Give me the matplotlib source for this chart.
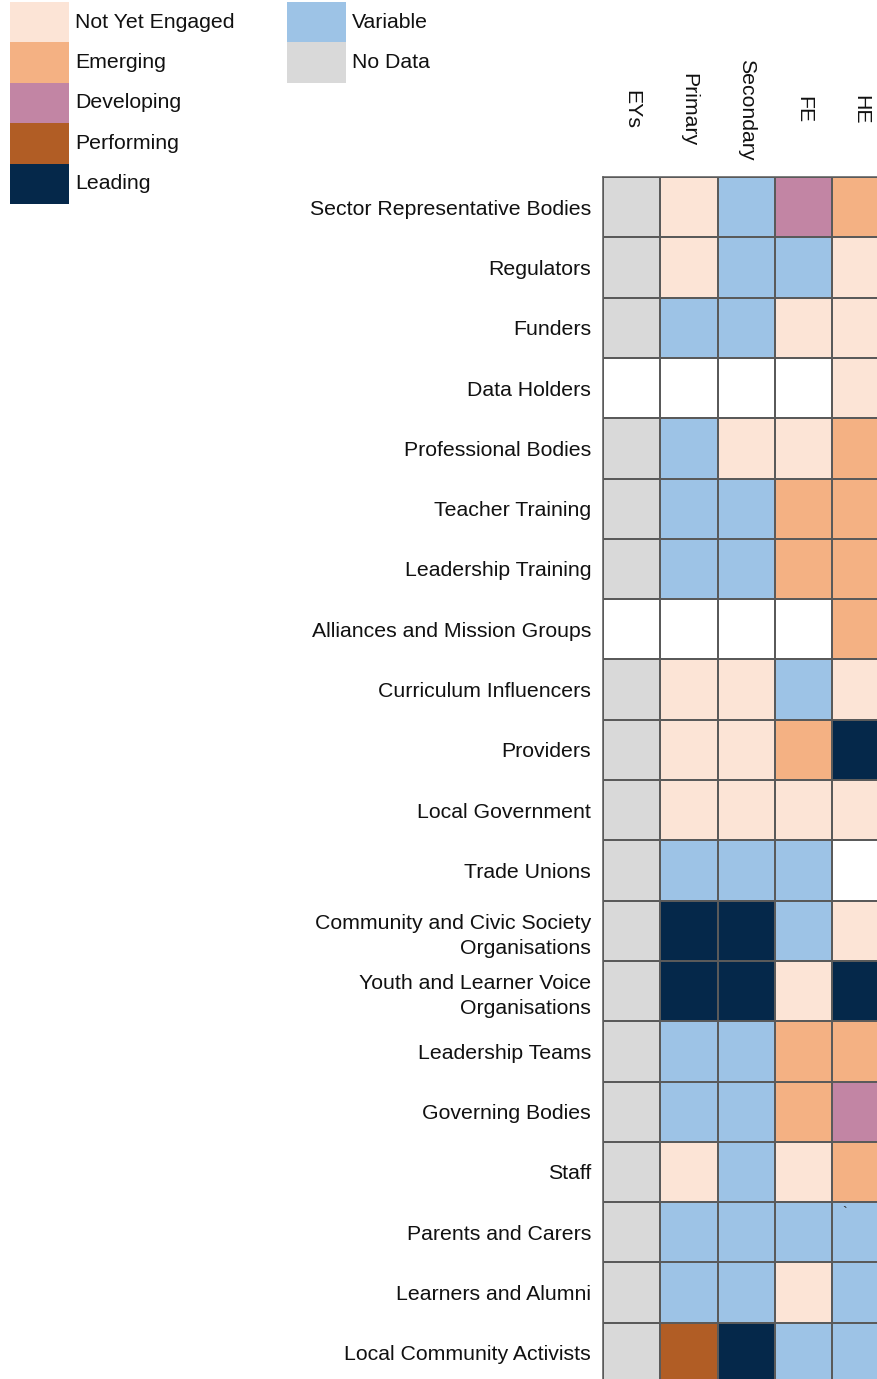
import numpy as np
import matplotlib
matplotlib.use("Agg")
import matplotlib.pyplot as plt
from matplotlib.colors import ListedColormap, BoundaryNorm
from matplotlib.patches import Rectangle
from matplotlib.transforms import blended_transform_factory

plt.rcParams['font.family'] = ['Liberation Sans', 'DejaVu Sans']

# categories / legend
levels = ["Not Yet Engaged", "Emerging", "Developing", "Performing", "Leading",
          "Variable", "No Data"]
level_colors = ["#FCE4D6", "#F4B183", "#C285A4", "#B15D25", "#05284A",
                "#9DC3E6", "#D9D9D9"]

columns = ["EYs", "Primary", "Secondary", "FE", "HE"]

rows = [
    "Sector Representative Bodies",
    "Regulators",
    "Funders",
    "Data Holders",
    "Professional Bodies",
    "Teacher Training",
    "Leadership Training",
    "Alliances and Mission Groups",
    "Curriculum Influencers",
    "Providers",
    "Local Government",
    "Trade Unions",
    "Community and Civic Society\nOrganisations",
    "Youth and Learner Voice\nOrganisations",
    "Leadership Teams",
    "Governing Bodies",
    "Staff",
    "Parents and Carers",
    "Learners and Alumni",
    "Local Community Activists",
]

# 0 NYE, 1 Emerging, 2 Developing, 3 Performing, 4 Leading, 5 Variable, 6 No Data, nan blank
N = np.nan
scores = np.array([
    [6, 0, 5, 2, 1],
    [6, 0, 5, 5, 0],
    [6, 5, 5, 0, 0],
    [N, N, N, N, 0],
    [6, 5, 0, 0, 1],
    [6, 5, 5, 1, 1],
    [6, 5, 5, 1, 1],
    [N, N, N, N, 1],
    [6, 0, 0, 5, 0],
    [6, 0, 0, 1, 4],
    [6, 0, 0, 0, 0],
    [6, 5, 5, 5, N],
    [6, 4, 4, 5, 0],
    [6, 4, 4, 0, 4],
    [6, 5, 5, 1, 1],
    [6, 5, 5, 1, 2],
    [6, 0, 5, 0, 1],
    [6, 5, 5, 5, 5],
    [6, 5, 5, 0, 5],
    [6, 3, 4, 5, 5],
])

FS = 15.3
W, H = 877, 1379
fig = plt.figure(figsize=(W / 100, H / 100), dpi=100)

# heatmap axes (extends slightly past the right and bottom edge, like the source crop)
left, top, cell_w, cell_h = 603, 177, 57.3, 60.3
ax = fig.add_axes([left / W, 1 - (top + cell_h * len(rows)) / H,
                   cell_w * len(columns) / W, cell_h * len(rows) / H])

cmap = ListedColormap(level_colors)
cmap.set_bad("white")
norm = BoundaryNorm(np.arange(-0.5, 7.5, 1), cmap.N)
masked = np.ma.masked_invalid(scores)
ax.pcolormesh(np.arange(len(columns) + 1), np.arange(len(rows) + 1), masked,
              cmap=cmap, norm=norm, edgecolors="#5a5a5a", linewidth=1.1)
ax.set_xlim(0, len(columns))
ax.set_ylim(len(rows), 0)
for s in ax.spines.values():
    s.set_color("#5a5a5a")
    s.set_linewidth(1.1)

ax.set_xticks([])
ax.set_yticks(np.arange(len(rows)) + 0.5)
ax.set_yticklabels(rows, fontsize=FS, linespacing=1.4, color="#111111")
ax.tick_params(axis="y", length=0, pad=8.5)

# column headers, rotated to read top-down
hdr_tr = blended_transform_factory(ax.transData, fig.transFigure)
for i, c in enumerate(columns):
    ax.text(i + 0.5, 1 - 110 / H, c, rotation=270, ha="center", va="center",
            fontsize=FS, color="#111111", transform=hdr_tr)

# stray mark in the Parents and Carers / HE cell
ax.text(4.22, 17.06, "`", fontsize=10, ha="center", va="top", color="#222222")

# legend drawn by hand: two columns of swatches
lax = fig.add_axes([0, 1 - 210 / H, 440 / W, 210 / H])
lax.set_xlim(0, 440)
lax.set_ylim(210, 0)
lax.axis("off")
col_x = [10, 287]
sw_w, sw_h, y0 = 59, 40.4, 2
for k, (name, col) in enumerate(zip(levels, level_colors)):
    c, r = (0, k) if k < 5 else (1, k - 5)
    x, y = col_x[c], y0 + r * sw_h
    lax.add_patch(Rectangle((x, y), sw_w, sw_h, facecolor=col, edgecolor="none"))
    lax.text(x + sw_w + 6, y + sw_h / 2, name, fontsize=FS, va="center",
             ha="left", color="#111111")

fig.savefig("out.png", dpi=100)
